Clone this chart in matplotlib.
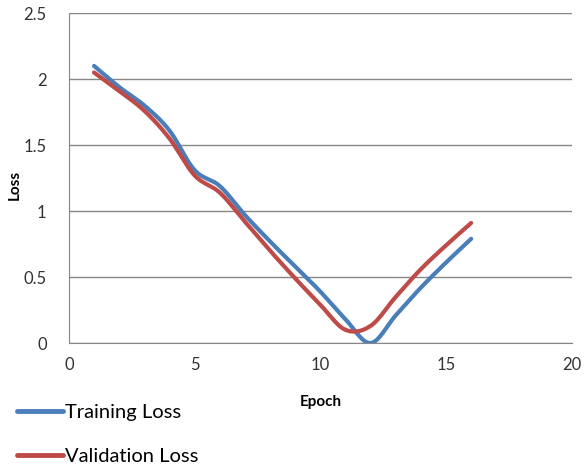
import numpy as np
import matplotlib
matplotlib.use("Agg")
import matplotlib.pyplot as plt

plt.rcParams['font.family'] = ['Lato', 'DejaVu Sans']

epochs = [1, 2, 3, 4, 5, 6, 7, 8, 9, 10, 11, 12, 13, 14, 15, 16]
train_loss = [2.10, 1.94, 1.80, 1.61, 1.31, 1.19, 0.97, 0.77, 0.58, 0.39, 0.18, 0.0, 0.21, 0.42, 0.61, 0.79]
val_loss = [2.05, 1.91, 1.76, 1.55, 1.27, 1.14, 0.92, 0.70, 0.49, 0.29, 0.10, 0.13, 0.35, 0.56, 0.74, 0.91]


def smooth(x, y, n=30):
    # Catmull-Rom style curve, like a spreadsheet "smoothed line"
    x = np.asarray(x, float)
    y = np.asarray(y, float)
    px = np.concatenate([[2*x[0]-x[1]], x, [2*x[-1]-x[-2]]])
    py = np.concatenate([[2*y[0]-y[1]], y, [2*y[-1]-y[-2]]])
    t = np.linspace(0, 1, n)
    xs, ys = [], []
    for i in range(1, len(px)-2):
        for p, out in ((px, xs), (py, ys)):
            p0, p1, p2, p3 = p[i-1], p[i], p[i+1], p[i+2]
            out.append(0.5*((2*p1) + (-p0+p2)*t + (2*p0-5*p1+4*p2-p3)*t**2
                            + (-p0+3*p1-3*p2+p3)*t**3))
    return np.concatenate(xs), np.concatenate(ys)


fig = plt.figure(figsize=(5.84, 4.68), dpi=100)
ax = fig.add_axes([0.118, 0.267, 0.861, 0.705])

blue = '#4a7ebb'
red = '#be4b48'
grid = '#868686'

tx, ty = smooth(epochs, train_loss)
vx, vy = smooth(epochs, val_loss)
l1, = ax.plot(tx, ty, color=blue, lw=3, solid_capstyle='round', label='Training Loss')
l2, = ax.plot(vx, vy, color=red, lw=3, solid_capstyle='round', label='Validation Loss')

ax.set_xlim(0, 20)
ax.set_ylim(0, 2.5)
ax.set_xticks([0, 5, 10, 15, 20])
ax.set_yticks([0, 0.5, 1, 1.5, 2, 2.5])
ax.set_yticklabels(['0', '0.5', '1', '1.5', '2', '2.5'])
ax.yaxis.grid(True, color=grid, lw=1)
ax.set_axisbelow(True)
for s in ['top', 'right']:
    ax.spines[s].set_visible(False)
ax.spines['left'].set_color(grid)
ax.spines['bottom'].set_color(grid)
ax.tick_params(length=0, labelsize=12, colors='#333333')
ax.tick_params(axis='y', pad=16)
ax.tick_params(axis='x', pad=10)
ax.set_xlabel('Epoch', fontsize=11, fontweight='bold')
ax.set_ylabel('Loss', fontsize=11, fontweight='bold')
ax.xaxis.set_label_coords(0.50, -0.158)
ax.yaxis.set_label_coords(-0.094, 0.48)

leg = fig.legend(handles=[l1, l2], loc='upper left', bbox_to_anchor=(0.015, 0.155),
                 frameon=False, fontsize=14.5, handlelength=2.3, handletextpad=0.1,
                 labelspacing=1.35, borderaxespad=0)
for h in leg.get_lines():
    h.set_linewidth(3.5)

fig.savefig('out.png', dpi=100)
